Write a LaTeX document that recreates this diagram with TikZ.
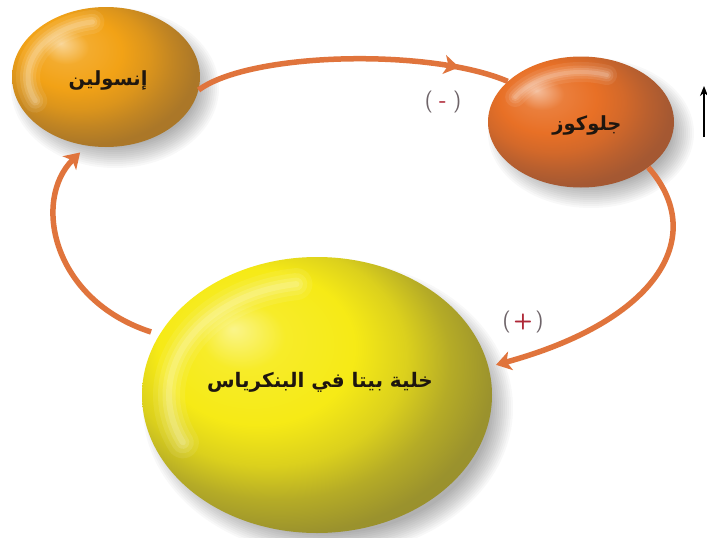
\documentclass[tikz,border=0pt]{standalone}
\usepackage{fontspec}
\setmainfont{Liberation Sans}
\newfontfamily\arabicfont[Script=Arabic]{DejaVu Sans}
\TeXXeTstate=1
\usetikzlibrary{shapes.geometric,arrows.meta,decorations.markings}
\definecolor{insC}{RGB}{242,162,22}
\definecolor{gluC}{RGB}{232,112,38}
\definecolor{betC}{RGB}{246,234,22}
\definecolor{dkC}{RGB}{55,50,70}
\definecolor{arrC}{RGB}{224,116,60}
\definecolor{txtC}{RGB}{30,22,15}
\definecolor{parC}{RGB}{110,100,105}
\definecolor{sgnC}{RGB}{175,40,55}
\pgfdeclareradialshading{insball}{\pgfqpoint{-12bp}{12bp}}{color(0bp)=(insC!45!white); color(6bp)=(insC!90!white); color(13bp)=(insC); color(19bp)=(insC!88!dkC); color(24bp)=(insC!74!dkC); color(29bp)=(insC!62!dkC); color(50bp)=(insC!58!dkC)}
\pgfdeclareradialshading{gluball}{\pgfqpoint{-12bp}{12bp}}{color(0bp)=(gluC!45!white); color(6bp)=(gluC!90!white); color(13bp)=(gluC); color(19bp)=(gluC!88!dkC); color(24bp)=(gluC!74!dkC); color(29bp)=(gluC!62!dkC); color(50bp)=(gluC!58!dkC)}
\pgfdeclareradialshading{betball}{\pgfqpoint{-12bp}{12bp}}{color(0bp)=(betC!50!white); color(6bp)=(betC!92!white); color(14bp)=(betC); color(20bp)=(betC!86!dkC); color(25bp)=(betC!66!dkC); color(30bp)=(betC!52!dkC); color(50bp)=(betC!48!dkC)}
\tikzset{
  ballnode/.style={ellipse, inner sep=0pt, text=txtC, font=\arabicfont\bfseries},
  flow/.style={draw=arrC, line width=5.5pt},
  tip/.style={-{Stealth[length=15pt,width=19pt,inset=4pt]}},
  signlbl/.style={font=\sffamily\fontsize{22}{22}\selectfont, inner sep=0pt},
  shadowring/.style={fill=black, opacity=0.028},
  shine/.style={draw=white, line cap=round}
}
\begin{document}
\begin{tikzpicture}[x=1pt,y=-1pt]
\path[use as bounding box, fill=white] (0,0) rectangle (707,538);

% soft shadows
\foreach \k in {0,...,11}{
  \fill[shadowring] (115,88) ellipse[x radius={(104-2*\k)*1pt}, y radius={(80-2*\k)*1pt}];
  \fill[shadowring] (591,133) ellipse[x radius={(103-2*\k)*1pt}, y radius={(75-2*\k)*1pt}];
  \fill[shadowring] (328,408) ellipse[x radius={(185-2*\k)*1pt}, y radius={(148-2*\k)*1pt}];
}

% balls
\node[ballnode, shading=insball, minimum width=188pt, minimum height=140pt] (ins) at (106,77) {};
\node[ballnode, shading=gluball, minimum width=186pt, minimum height=131pt] (glu) at (581,122) {};
\node[ballnode, shading=betball, minimum width=350pt, minimum height=276pt] (bet) at (317,395) {};

% highlights
\begin{scope}[shift={(ins.center)}, y=1pt]
  \clip (0,0) ellipse[x radius=94pt, y radius=70pt];
  \foreach \w/\o in {24/0.08,16/0.10,10/0.13,5/0.15}
    \draw[shine, line width=\w pt, opacity=\o] (100:78pt and 56pt) arc[start angle=100, end angle=205, x radius=78pt, y radius=56pt];
\end{scope}
\begin{scope}[shift={(glu.center)}, y=1pt]
  \clip (0,0) ellipse[x radius=93pt, y radius=65.5pt];
  \foreach \w/\o in {20/0.08,13/0.10,8/0.13,4/0.15}
    \draw[shine, line width=\w pt, opacity=\o] (70:76pt and 50pt) arc[start angle=70, end angle=150, x radius=76pt, y radius=50pt];
\end{scope}
\begin{scope}[shift={(bet.center)}, y=1pt]
  \clip (0,0) ellipse[x radius=175pt, y radius=138pt];
  \foreach \w/\o in {32/0.08,22/0.10,13/0.13,6/0.15}
    \draw[shine, line width=\w pt, opacity=\o] (98:148pt and 112pt) arc[start angle=98, end angle=205, x radius=148pt, y radius=112pt];
\end{scope}

% texts
\node[ballnode, font=\arabicfont\bfseries\fontsize{19.5}{20}\selectfont] (tins) at (108,80) {\beginR إنسولين\endR};
\node[ballnode, font=\arabicfont\bfseries\fontsize{19.5}{20}\selectfont] (tglu) at (587,125) {\beginR جلوكوز\endR};
\node[ballnode, font=\arabicfont\bfseries\fontsize{20}{20}\selectfont] (tbet) at (320,382) {\beginR خلية بيتا في البنكرياس\endR};

% connectors
\draw[flow, postaction={decorate}, decoration={markings, mark=at position 0.84 with {\arrow[arrC]{Stealth[length=15pt,width=19pt,inset=4pt]}}}]
  (ins.-8) .. controls (250,52) and (430,48) .. (glu.151);
\draw[flow, tip] (glu.-34) .. controls (708,235) and (660,320) .. ([xshift=8pt]bet.10);
\draw[flow, tip] ([xshift=-10pt]bet.158) .. controls (52,300) and (32,200) .. ([yshift=-8pt]ins.-111);

% signs
\node[signlbl] (minus) at (443,102) {\textcolor{parC}{(}\hspace{6pt}\textcolor{sgnC}{\textbf{-}}\hspace{6pt}\textcolor{parC}{)}};
\node[signlbl] (plus) at (523,322) {\textcolor{parC}{(}\hspace{3pt}\textcolor{sgnC}{\textbf{+}}\hspace{3pt}\textcolor{parC}{)}};

% up arrow at right edge
\coordinate (upA) at (704,137);
\coordinate (upB) at (704,86);
\draw[black, line width=1.8pt, -{Stealth[length=10pt,width=8pt]}] (upA) -- (upB);
\end{tikzpicture}
\end{document}
